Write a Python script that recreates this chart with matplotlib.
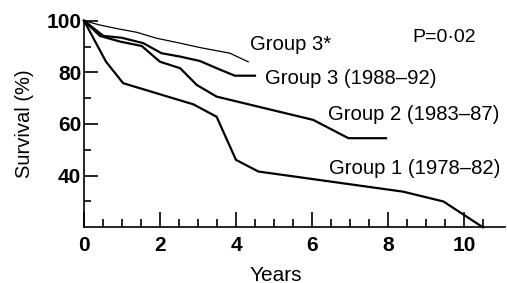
#!/usr/bin/env python

import numpy as np
import matplotlib.pyplot as plt

plt.rcParams['font.family'] = ['Liberation Sans', 'DejaVu Sans']

# survival curves (years, %)
g1_x = [0, 0.58, 1.03, 2.88, 3.49, 4.0, 4.59, 8.4, 9.46, 10.5]
g1_y = [100, 84.1, 75.8, 67.6, 62.8, 46.1, 41.6, 33.8, 30.0, 20]

g2_x = [0, 0.42, 0.95, 1.52, 2.0, 2.53, 2.97, 3.49, 4.59, 6.03, 6.96, 7.95]
g2_y = [100, 94.1, 91.9, 90.2, 84.1, 81.6, 75.1, 70.6, 66.7, 61.6, 54.5, 54.5]

g3_x = [0, 0.51, 0.99, 1.56, 2.04, 2.53, 3.05, 3.49, 3.97, 4.5]
g3_y = [100, 94.1, 93.4, 91.3, 87.4, 86.1, 84.4, 81.6, 78.7, 78.7]

g3s_x = [0, 0.42, 0.95, 1.39, 1.91, 2.53, 3.05, 3.84, 4.32]
g3s_y = [100, 98.3, 96.7, 95.5, 93.2, 91.3, 89.6, 87.4, 84.1]

labels = ['Group 1 (1978\u201382)', 'Group 2 (1983\u201387)',
          'Group 3 (1988\u201392)', 'Group 3*']
label_pos = [(6.45, 42.9), (6.42, 63.5), (4.76, 77.8), (4.37, 90.6)]

fig = plt.figure(figsize=(5.07, 2.83), dpi=100)
ax = fig.add_axes([0.1657, 0.1968, 0.996 - 0.1657, 0.9269 - 0.1968])

ax.plot(g1_x, g1_y, color='black', lw=1.6, clip_on=False, solid_joinstyle='miter')
ax.plot(g2_x, g2_y, color='black', lw=1.6, clip_on=False, solid_joinstyle='miter')
ax.plot(g3_x, g3_y, color='black', lw=1.6, clip_on=False, solid_joinstyle='miter')
ax.plot(g3s_x, g3s_y, color='black', lw=0.9, clip_on=False)

for lab, (lx, ly) in zip(labels, label_pos):
  ax.text(lx, ly, lab, fontsize=14.6, ha='left', va='center')
ax.text(8.64, 93.3, 'P=0\u00b702', fontsize=14, ha='left', va='center')

ax.set_xlim(0, 11.08)
ax.set_ylim(20, 100)
ax.spines['top'].set_visible(False)
ax.spines['right'].set_visible(False)
ax.spines['left'].set_linewidth(1.2)
ax.spines['bottom'].set_linewidth(1.2)

ax.set_xticks([0, 2, 4, 6, 8, 10])
ax.set_xticks(np.arange(0, 11, 0.5), minor=True)
ax.set_yticks([40, 60, 80, 100])
ax.set_yticks([30, 50, 70, 90], minor=True)
ax.tick_params(axis='x', which='major', direction='in', length=11, width=1.2, pad=6)
ax.tick_params(axis='x', which='minor', direction='in', length=5.5, width=1.2)
ax.tick_params(axis='y', which='major', direction='in', length=10, width=1.2, pad=2)
ax.tick_params(axis='y', which='minor', direction='in', length=5, width=1.2)
for t in ax.get_xticklabels() + ax.get_yticklabels():
  t.set_fontsize(15)
  t.set_fontweight('bold')

ax.set_xlabel('Years', fontsize=15)
ax.xaxis.set_label_coords(0.456, -0.185)
ax.set_ylabel('Survival (%)', fontsize=14.5, labelpad=9)

fig.savefig('out.png', dpi=100)
